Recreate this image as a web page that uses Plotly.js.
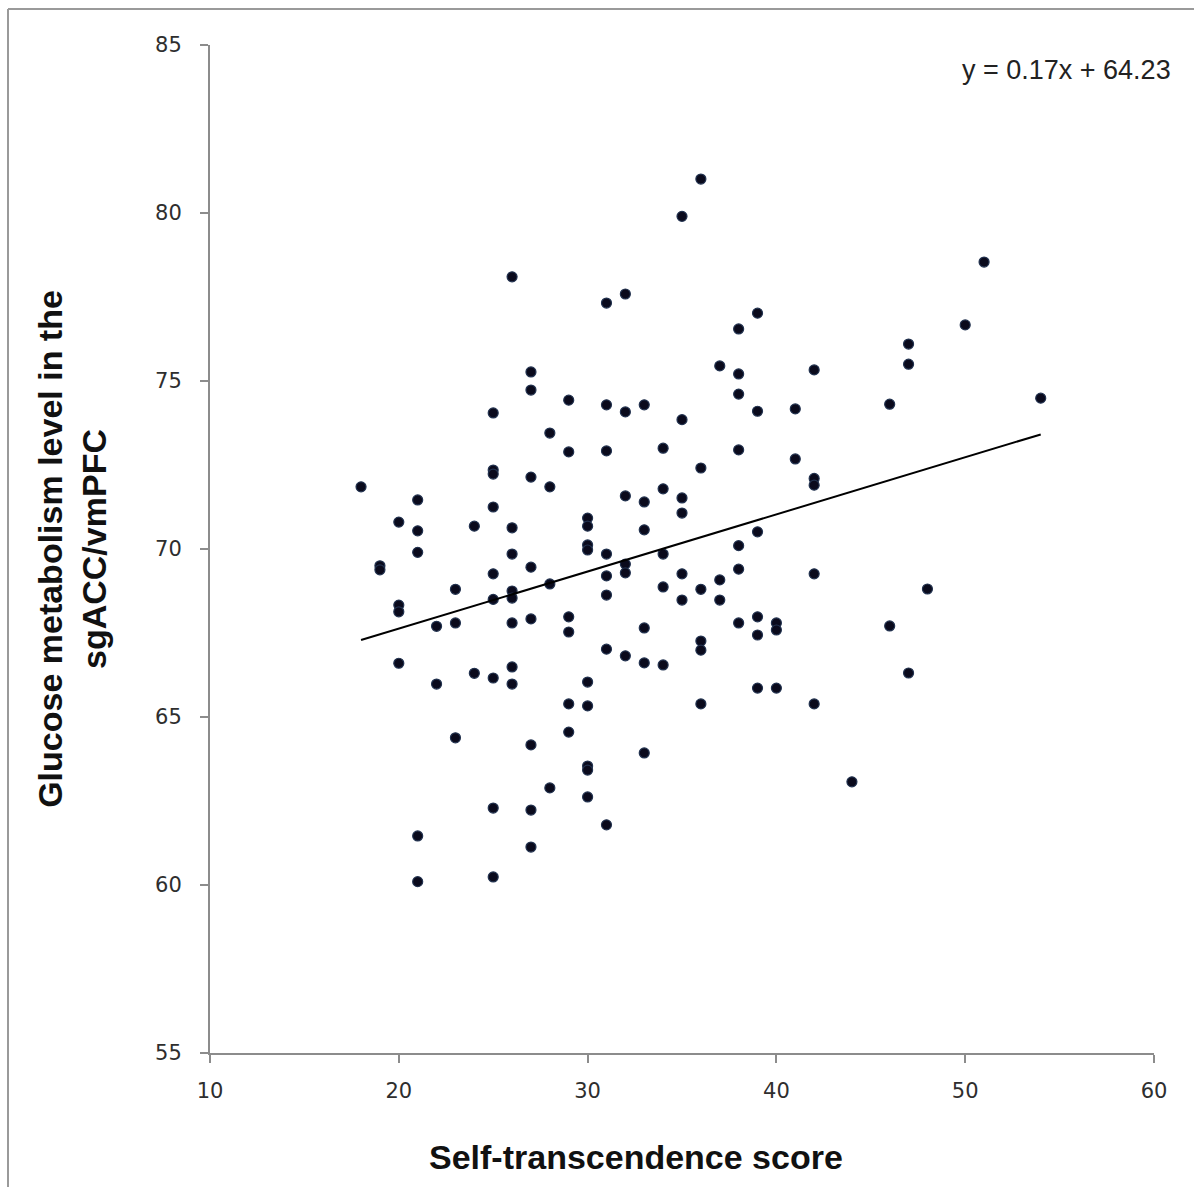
<!DOCTYPE html>
<html>
<head>
<meta charset="utf-8">
<script src="https://cdn.plot.ly/plotly-3.0.1.min.js"></script>
<style>
html, body { margin: 0; padding: 0; background: #fff; }
#chart { width: 1194px; height: 1187px; }
</style>
</head>
<body>
<div id="chart"></div>
<script>
// Self-transcendence score (x) and glucose metabolism level (y)
const scoreX = [
  18,
  19, 19,
  20, 20, 20, 20,
  21, 21, 21, 21, 21,
  22, 22,
  23, 23, 23,
  24, 24,
  25, 25, 25, 25, 25, 25, 25, 25, 25,
  26, 26, 26, 26, 26, 26, 26, 26,
  27, 27, 27, 27, 27, 27, 27, 27,
  28, 28, 28, 28,
  29, 29, 29, 29, 29, 29,
  30, 30, 30, 30, 30, 30, 30, 30, 30,
  31, 31, 31, 31, 31, 31, 31, 31,
  32, 32, 32, 32, 32, 32,
  33, 33, 33, 33, 33, 33,
  34, 34, 34, 34, 34,
  35, 35, 35, 35, 35, 35,
  36, 36, 36, 36, 36, 36,
  37, 37, 37,
  38, 38, 38, 38, 38, 38, 38,
  39, 39, 39, 39, 39, 39,
  40, 40, 40,
  41, 41,
  42, 42, 42, 42, 42,
  44,
  46, 46,
  47, 47, 47,
  48,
  50,
  51,
  54
];
const glucoseY = [
  71.85,
  69.50, 69.38,
  70.80, 68.33, 68.13, 66.60,
  71.46, 70.54, 69.90, 61.46, 60.10,
  67.70, 65.98,
  68.80, 67.80, 64.38,
  70.68, 66.30,
  74.05, 72.35, 72.23, 71.25, 69.26, 68.50, 66.16, 62.29, 60.24,
  78.10, 70.63, 69.85, 68.75, 68.54, 67.80, 66.49, 65.98,
  75.27, 74.73, 72.14, 69.46, 67.92, 64.17, 62.23, 61.13,
  73.45, 71.85, 68.96, 62.89,
  74.43, 72.89, 67.98, 67.53, 65.39, 64.55,
  70.92, 70.68, 70.12, 69.97, 66.04, 65.33, 63.54, 63.42, 62.62,
  77.32, 74.29, 72.92, 69.85, 69.20, 68.63, 67.02, 61.79,
  77.59, 74.08, 71.58, 69.55, 69.29, 66.82,
  74.29, 71.40, 70.57, 67.65, 66.61, 63.93,
  73.00, 71.79, 69.85, 68.87, 66.55,
  79.90, 73.85, 71.52, 71.07, 69.26, 68.48,
  81.01, 72.41, 68.80, 67.26, 66.99, 65.39,
  75.45, 69.08, 68.48,
  76.55, 75.21, 74.61, 72.95, 70.10, 69.40, 67.80,
  77.02, 74.10, 70.51, 67.98, 67.44, 65.86,
  67.80, 67.59, 65.86,
  74.17, 72.68,
  75.33, 72.10, 71.90, 69.26, 65.39,
  63.07,
  74.31, 67.71,
  76.10, 75.50, 66.31,
  68.81,
  76.67,
  78.54,
  74.49
];
// Trend line end points
const trendX = [18, 54];
const trendY = [67.29, 73.41];
const equationText = "y = 0.17x + 64.23";
const xTitleText = "Self-transcendence score";
const yTitleText = "Glucose metabolism level in the<br>sgACC/vmPFC";
const xTicks = [10, 20, 30, 40, 50, 60];
const yTicks = [55, 60, 65, 70, 75, 80, 85];

const axisColor = '#8c8c8c';
const tickFont = { family: 'DejaVu Sans, Verdana, sans-serif', size: 21, color: '#2e2e2e' };
const titleFont = { family: 'Liberation Sans, Arial, sans-serif', size: 34, color: '#111111', weight: 'bold' };

const traces = [
  {
    type: 'scatter', mode: 'markers', x: scoreX, y: glucoseY,
    marker: { size: 10, color: '#0a0a1c', line: { color: '#22324f', width: 1.2 } },
    hoverinfo: 'x+y'
  },
  {
    type: 'scatter', mode: 'lines', x: trendX, y: trendY,
    line: { color: '#000000', width: 2 }, hoverinfo: 'skip'
  }
];

const layout = {
  width: 1194, height: 1187,
  margin: { l: 210, r: 40, t: 45, b: 134 },
  paper_bgcolor: '#ffffff', plot_bgcolor: '#ffffff',
  showlegend: false,
  xaxis: {
    range: [10, 60], tickvals: xTicks, ticktext: xTicks.map(String),
    showgrid: false, zeroline: false, showline: true, linecolor: axisColor, linewidth: 2,
    ticks: 'outside', ticklen: 8, tickwidth: 2, tickcolor: axisColor,
    tickfont: tickFont, ticklabelstandoff: 10
  },
  yaxis: {
    range: [55, 85], tickvals: yTicks, ticktext: yTicks.map(String),
    showgrid: false, zeroline: false, showline: true, linecolor: axisColor, linewidth: 2,
    ticks: 'outside', ticklen: 8, tickwidth: 2, tickcolor: axisColor,
    tickfont: tickFont, ticklabelstandoff: 14,
    title: { text: yTitleText, font: titleFont, standoff: 38 }
  },
  annotations: [
    {
      xref: 'paper', yref: 'paper', x: 1.0205, y: 0.975, xanchor: 'right', yanchor: 'middle',
      text: equationText, showarrow: false,
      font: { family: 'Liberation Sans, Arial, sans-serif', size: 27, color: '#222222' }
    },
    {
      xref: 'paper', yref: 'paper', x: (636 - 210) / 944, y: (1053 - 1157) / 1008,
      xanchor: 'center', yanchor: 'middle', text: xTitleText, showarrow: false,
      font: titleFont
    }
  ],
  shapes: [
    { type: 'line', xref: 'paper', yref: 'paper', x0: (8 - 210) / 944, x1: 1.1, y0: (1053 - 9) / 1008, y1: (1053 - 9) / 1008, line: { color: '#9a9a9a', width: 2 } },
    { type: 'line', xref: 'paper', yref: 'paper', x0: (8 - 210) / 944, x1: (8 - 210) / 944, y0: (1053 - 9) / 1008, y1: -0.2, line: { color: '#9a9a9a', width: 2 } }
  ]
};

Plotly.newPlot('chart', traces, layout, { displayModeBar: false, staticPlot: true });
</script>
</body>
</html>
